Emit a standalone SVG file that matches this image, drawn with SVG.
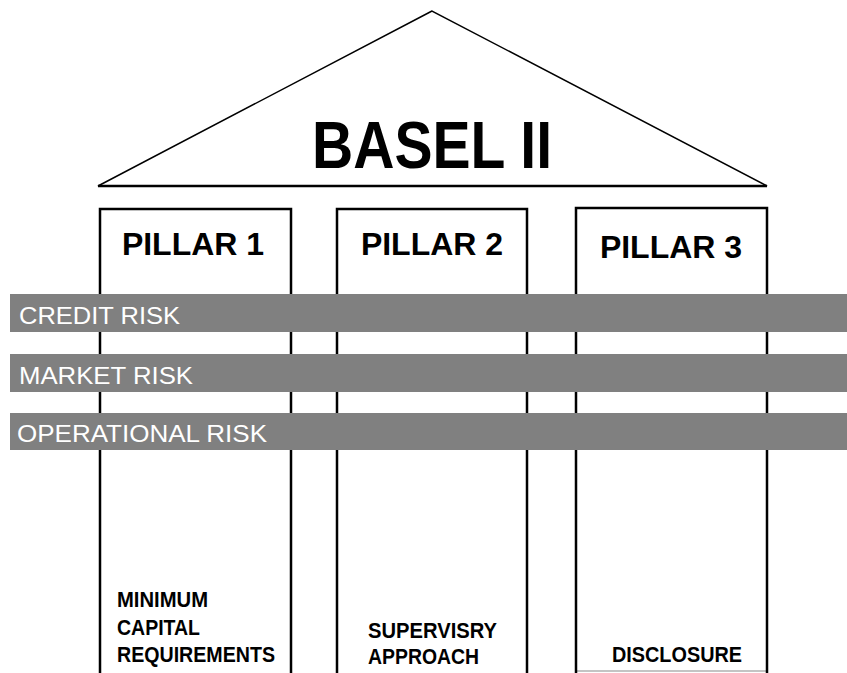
<svg xmlns="http://www.w3.org/2000/svg" width="847" height="673" viewBox="0 0 847 673">
  <style>
    .pillar { fill: #ffffff; stroke: #000000; stroke-width: 2.5; }
    .roof { fill: #ffffff; stroke: #000000; stroke-width: 1.5; }
    .band { fill: #808080; }
    .title { font-family: "Liberation Sans", Arial, sans-serif; font-weight: bold; fill: #000000; }
    .head { font-family: "Liberation Sans", Arial, sans-serif; font-weight: bold; font-size: 32px; fill: #000000; text-anchor: middle; }
    .risk { font-family: "Liberation Sans", Arial, sans-serif; font-size: 24px; fill: #ffffff; }
    .foot { font-family: "Liberation Sans", Arial, sans-serif; font-weight: bold; font-size: 22px; fill: #000000; }
  </style>
  <rect width="847" height="673" fill="#ffffff"/>

  <g id="roof">
    <polygon class="roof" points="432,11 98,186 767,186"/>
    <line x1="98" y1="186" x2="767" y2="186" stroke="#000" stroke-width="2.5"/>
    <text class="title" x="432" y="168" font-size="67" text-anchor="middle" textLength="240" lengthAdjust="spacingAndGlyphs">BASEL II</text>
  </g>

  <g id="pillar1">
    <rect class="pillar" x="100" y="209" width="191" height="480"/>
    <text class="head" x="193" y="255">PILLAR 1</text>
    <text class="foot" x="117" y="607" textLength="91" lengthAdjust="spacingAndGlyphs">MINIMUM</text>
    <text class="foot" x="117" y="635" textLength="83" lengthAdjust="spacingAndGlyphs">CAPITAL</text>
    <text class="foot" x="117" y="662" textLength="158" lengthAdjust="spacingAndGlyphs">REQUIREMENTS</text>
  </g>

  <g id="pillar2">
    <rect class="pillar" x="337" y="209" width="190" height="480"/>
    <text class="head" x="432" y="255">PILLAR 2</text>
    <text class="foot" x="368" y="638" textLength="129" lengthAdjust="spacingAndGlyphs">SUPERVISRY</text>
    <text class="foot" x="368" y="664" textLength="111" lengthAdjust="spacingAndGlyphs">APPROACH</text>
  </g>

  <g id="pillar3">
    <line x1="576" y1="671" x2="766" y2="671" stroke="#b0b0b0" stroke-width="1.5"/>
    <path d="M576,673 V208 H767 V673" fill="none" stroke="#000" stroke-width="2.5"/>
    <text class="head" x="671" y="258">PILLAR 3</text>
    <text class="foot" x="612" y="662" textLength="130" lengthAdjust="spacingAndGlyphs">DISCLOSURE</text>
  </g>

  <g id="credit-risk">
    <rect class="band" x="10" y="294" width="837" height="38"/>
    <text class="risk" x="19" y="324" textLength="161" lengthAdjust="spacingAndGlyphs">CREDIT RISK</text>
  </g>
  <g id="market-risk">
    <rect class="band" x="10" y="354" width="837" height="38"/>
    <text class="risk" x="19" y="384" textLength="174" lengthAdjust="spacingAndGlyphs">MARKET RISK</text>
  </g>
  <g id="operational-risk">
    <rect class="band" x="10" y="413" width="837" height="37"/>
    <text class="risk" x="17" y="442" textLength="250" lengthAdjust="spacingAndGlyphs">OPERATIONAL RISK</text>
  </g>

  <g id="connectors"></g>
</svg>
